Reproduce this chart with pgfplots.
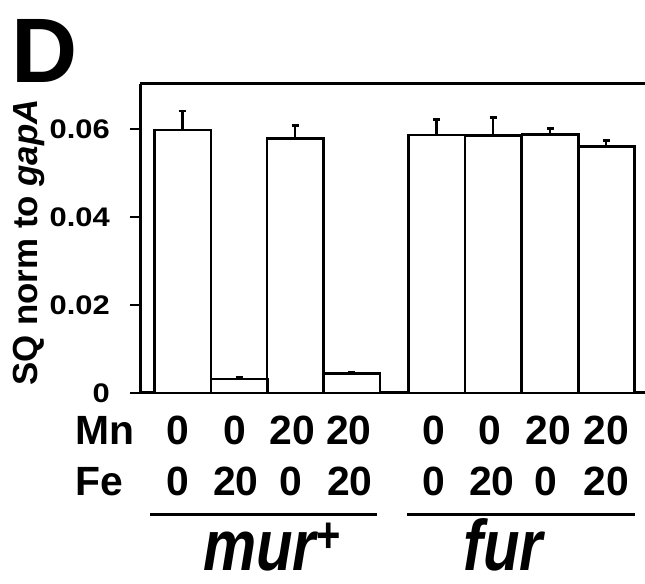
\documentclass[border=0pt]{standalone}
\usepackage{pgfplots}
\pgfplotsset{compat=1.18}
\usepackage{fontspec}
\setmainfont{Liberation Sans}
\pgfplotstableread{
x y e
182.5 0.0598 0.0043
239.0 0.0032 0.0004
295.0 0.0578 0.0030
351.5 0.0044 0.0003
436.5 0.0586 0.0036
493.0 0.0585 0.0041
550.0 0.0588 0.0013
606.0 0.0560 0.0014
}\datatable
\begin{document}
\begin{tikzpicture}
\useasboundingbox (0,0) rectangle (645bp,584bp);
\begin{axis}[
  at={(140bp,191bp)}, anchor=south west,
  scale only axis, width=505bp, height=309bp,
  xmin=140, xmax=645, ymin=0, ymax=0.07023,
  axis x line*=bottom, axis y line*=left,
  axis line style={line width=3bp, black},
  xtick=\empty,
  ytick={0,0.02,0.04,0.06},
  scaled y ticks=false,
  yticklabels={},
  tick align=outside, major tick length=10bp,
  tick style={line width=2.5bp, black},
  ybar, bar width=56.5,
  clip=false,
]
\addplot[fill=white, draw=black, line width=2.5bp,
  error bars/.cd, y dir=plus, y explicit,
  error bar style={line width=2.5bp, black},
  error mark options={rotate=90, mark size=3.5bp, line width=2.5bp, black}]
  table[x=x, y=y, y error=e]{\datatable};
\draw[line width=3bp] (rel axis cs:0,1) -- (rel axis cs:1,1);
% y tick labels
\begin{scope}[every node/.style={font=\fontsize{31}{31}\selectfont\bfseries, inner sep=0pt, anchor=east}]
\node at (axis cs:110,0) {\scalebox{1}[0.87]{0}};
\node at (axis cs:110,0.02) {\scalebox{1}[0.87]{0.02}};
\node at (axis cs:110,0.04) {\scalebox{1}[0.87]{0.04}};
\node at (axis cs:110,0.06) {\scalebox{1}[0.87]{0.06}};
\end{scope}
% condition rows
\begin{scope}[every node/.style={font=\fontsize{41}{41}\selectfont\bfseries, inner sep=0pt}]
\node[anchor=base west, yshift=-51bp] at (axis cs:75,0) {Mn};
\node[anchor=base west, yshift=-102bp] at (axis cs:75,0) {Fe};
\node[anchor=base, yshift=-51bp] at (axis cs:177.5,0) {0};
\node[anchor=base, yshift=-51bp] at (axis cs:235,0) {0};
\node[anchor=base, yshift=-51bp] at (axis cs:292.5,0) {20};
\node[anchor=base, yshift=-51bp] at (axis cs:349,0) {20};
\node[anchor=base, yshift=-51bp] at (axis cs:434,0) {0};
\node[anchor=base, yshift=-51bp] at (axis cs:490,0) {0};
\node[anchor=base, yshift=-51bp] at (axis cs:548.5,0) {20};
\node[anchor=base, yshift=-51bp] at (axis cs:606,0) {20};
\node[anchor=base, yshift=-102bp] at (axis cs:177.5,0) {0};
\node[anchor=base, yshift=-102bp] at (axis cs:236,0) {20};
\node[anchor=base, yshift=-102bp] at (axis cs:291,0) {0};
\node[anchor=base, yshift=-102bp] at (axis cs:350,0) {20};
\node[anchor=base, yshift=-102bp] at (axis cs:434,0) {0};
\node[anchor=base, yshift=-102bp] at (axis cs:492,0) {20};
\node[anchor=base, yshift=-102bp] at (axis cs:546,0) {0};
\node[anchor=base, yshift=-102bp] at (axis cs:606.5,0) {20};
\end{scope}
\end{axis}
% group underlines
\draw[line width=3bp] (150bp,69bp) -- (377bp,69bp);
\draw[line width=3bp] (407bp,69bp) -- (635bp,69bp);
% group names
\node[anchor=base, inner sep=0pt] at (272bp,14bp)
  {\scalebox{1}[1.2]{\fontsize{60}{60}\selectfont\bfseries\itshape mur\raisebox{15bp}{\fontsize{42}{42}\selectfont\upshape +}}};
\node[anchor=base, inner sep=0pt] at (503bp,14bp)
  {\scalebox{1}[1.2]{\fontsize{60}{60}\selectfont\bfseries\itshape fur}};
% y label
\node[rotate=90, anchor=base, inner sep=0pt] at (37bp,341.5bp)
  {\fontsize{35}{35}\selectfont\bfseries SQ norm to \textit{gapA}};
% panel letter
\node[anchor=base west, inner sep=0pt] at (11bp,501bp)
  {\fontsize{92}{92}\selectfont\bfseries D};
\end{tikzpicture}
\end{document}
